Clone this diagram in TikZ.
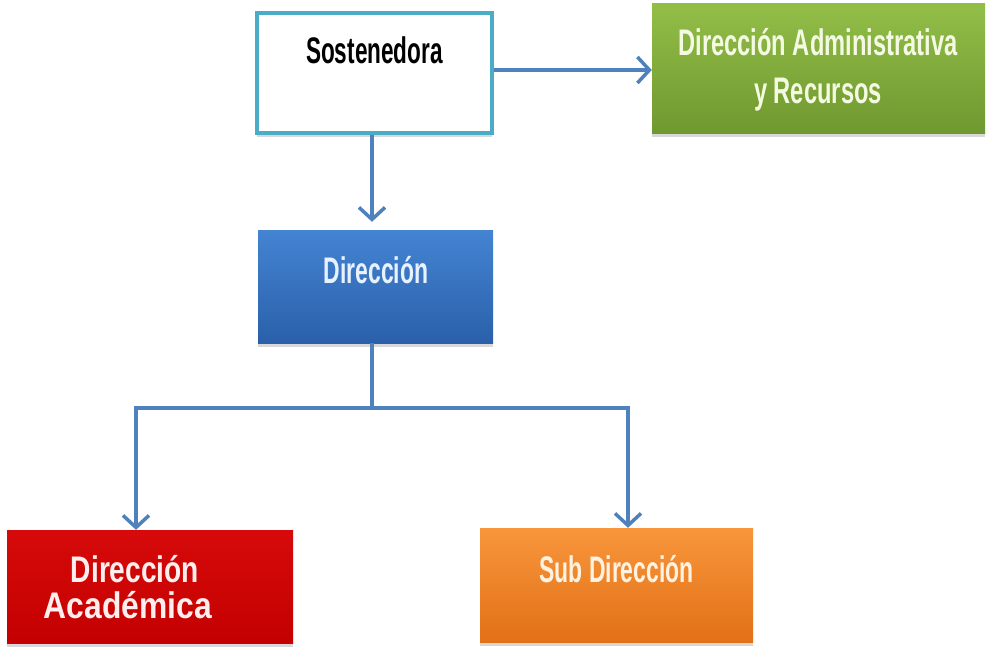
\documentclass[tikz,border=0pt]{standalone}
\usepackage{fontspec}
\setmainfont{Liberation Sans}
\usetikzlibrary{arrows.meta,shadows}
\newcommand{\sx}[2]{\scalebox{#1}[1]{#2}}
\definecolor{arrblue}{HTML}{4F81BD}
\definecolor{tealc}{HTML}{4BACC6}
\begin{document}
\begin{tikzpicture}[x=1pt,y=-1pt,
  box/.style={rectangle,inner sep=0pt,draw=none,
     drop shadow={shadow xshift=0pt,shadow yshift=-4pt,fill=black!60,opacity=0.25}},
  lbl/.style={anchor=base,inner sep=0pt,font=\bfseries\fontsize{37}{42}\selectfont},
  arr/.style={draw=arrblue,line width=3.5pt,-{Straight Barb[length=12pt,width=26pt,line width=3.5pt]}},
  ln/.style={draw=arrblue,line width=3.5pt}]
\useasboundingbox (0,0) rectangle (987,649);
\fill[white] (0,0) rectangle (987,649);
% boxes
\node[box,fill=white,draw=tealc,line width=3.5pt,minimum width=235pt,minimum height=120pt] (sost) at (374.5,73) {};
\node[box,top color={rgb,255:red,146;green,190;blue,72},bottom color={rgb,255:red,112;green,152;blue,48},minimum width=333pt,minimum height=130pt] (admin) at (818.5,68) {};
\node[box,top color={rgb,255:red,68;green,132;blue,210},bottom color={rgb,255:red,42;green,96;blue,170},minimum width=235pt,minimum height=113pt] (dir) at (375.5,286.5) {};
\node[box,top color={rgb,255:red,214;green,10;blue,10},bottom color={rgb,255:red,196;green,0;blue,0},minimum width=286pt,minimum height=113pt] (acad) at (150,586.5) {};
\node[box,top color={rgb,255:red,248;green,150;blue,60},bottom color={rgb,255:red,226;green,112;blue,22},minimum width=273pt,minimum height=114pt] (sub) at (616.5,585) {};
% labels
\node[lbl,text=black] (tsost) at (374.5,63) {\sx{0.61}{Sostenedora}};
\node[lbl,text={rgb,255:red,244;green,250;blue,226}] (tadm1) at (818,55) {\sx{0.64}{Dirección Administrativa}};
\node[lbl,text={rgb,255:red,244;green,250;blue,226}] (tadm2) at (818,103) {\sx{0.64}{y Recursos}};
\node[lbl,text={rgb,255:red,232;green,242;blue,255}] (tdir) at (376,283) {\sx{0.62}{Dirección}};
\node[lbl,text={rgb,255:red,255;green,238;blue,238}] (tac1) at (135,582) {\sx{0.76}{Dirección}};
\node[lbl,text={rgb,255:red,255;green,238;blue,238}] (tac2) at (128,618) {\sx{0.86}{Académica}};
\node[lbl,text={rgb,255:red,255;green,242;blue,225}] (tsub) at (616.5,582) {\sx{0.62}{Sub Dirección}};
% connectors
\coordinate (y70) at (0,70);
\coordinate (j) at (372,408);
\coordinate (jl) at (136,408);
\coordinate (jr) at (628,408);
\draw[arr] (sost.east |- y70) -- (admin.west |- y70);
\draw[arr,shorten >=8pt] (sost.south -| j) -- (dir.north -| j);
\draw[ln] (dir.south -| j) -- (j);
\draw[ln,line cap=rect] (jl) -- (jr);
\draw[arr] (jl) -- (acad.north -| jl);
\draw[arr] (jr) -- (sub.north -| jr);
\end{tikzpicture}
\end{document}
